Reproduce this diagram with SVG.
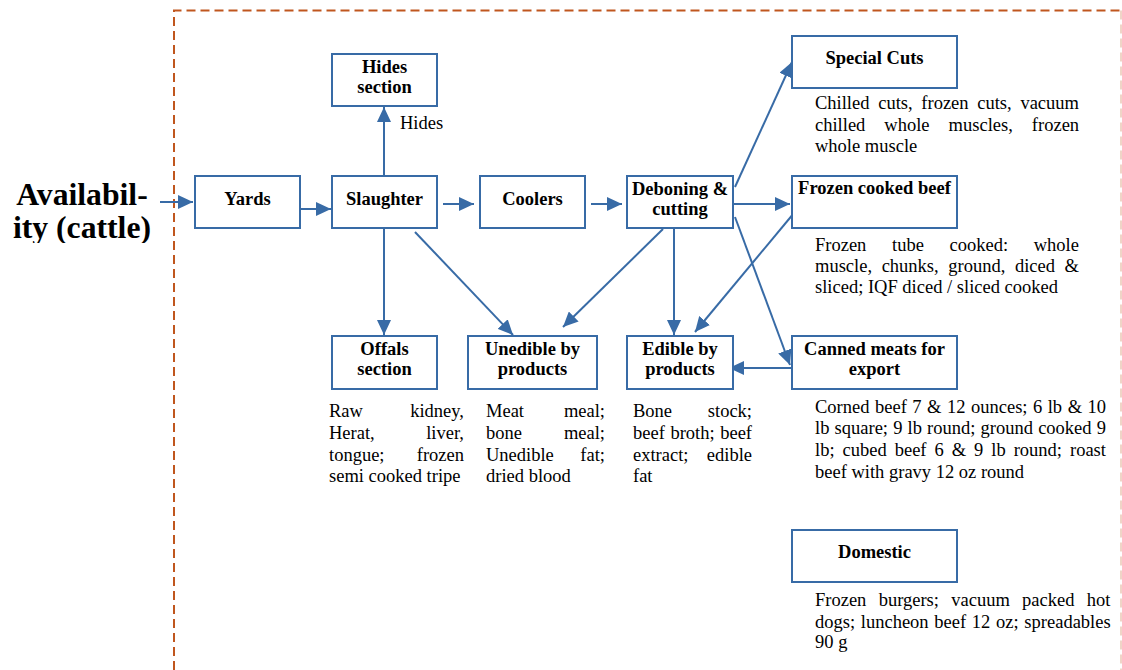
<svg xmlns="http://www.w3.org/2000/svg" width="1122" height="670" viewBox="0 0 1122 670">
<style>
.box{fill:#fff;stroke:#386BA6;stroke-width:2}
.lbl{font-family:"Liberation Serif",serif;font-weight:bold;font-size:18.5px;fill:#000;text-anchor:middle}
.big{font-family:"Liberation Serif",serif;font-weight:bold;font-size:31.7px;fill:#000;text-anchor:middle}
.desc{font-family:"Liberation Serif",serif;font-size:18.5px;fill:#000}
.end{text-anchor:end}
.con{stroke:#386BA6;stroke-width:2;fill:none;marker-end:url(#ah)}
</style>
<defs>
<marker id="ah" markerUnits="userSpaceOnUse" markerWidth="15" markerHeight="14" refX="15" refY="7" orient="auto">
<path d="M0,0 L15,7 L0,14 z" fill="#386BA6"/>
</marker>
<clipPath id="clipA"><rect x="0" y="0" width="174" height="243"/></clipPath>
</defs>
<rect width="1122" height="670" fill="#fff"/>
<g id="border" fill="none" stroke-width="2" stroke-dasharray="9,5">
<path d="M174,670 L174,10.5 L1121,10.5" stroke="#C0561E"/>
<path d="M1121,10.5 L1121,670" stroke="#C0561E" stroke-opacity="0.25"/>
</g>
<g id="availability" clip-path="url(#clipA)">
<text class="big" x="82" y="205">Availabil-</text>
<text class="big" x="82" y="238">ity (cattle)</text>
</g>
<g id="connectors">
<path class="con" d="M160,202 L193,202"/>
<path class="con" d="M301,209 L331,209"/>
<path class="con" d="M443,204 L474,204"/>
<path class="con" d="M591,204 L622,204"/>
<path class="con" d="M734,204 L790,204"/>
<path class="con" d="M735,187 L792,62"/>
<path class="con" d="M384,176 L384,107"/>
<path class="con" d="M384,228 L384,335"/>
<path class="con" d="M415,232 L513,335"/>
<path class="con" d="M663,229 L563,327"/>
<path class="con" d="M674,228 L674,335"/>
<path class="con" d="M794,213 L695,332"/>
<path class="con" d="M735,217 L790,365"/>
<path class="con" d="M792,368 L729,368"/>
</g>
<text id="hides-label" class="desc" x="400" y="129">Hides</text>
<g id="yards"><rect class="box" x="195" y="176" width="105" height="52"/><text class="lbl" x="247.5" y="205">Yards</text></g>
<g id="slaughter"><rect class="box" x="332" y="176" width="105" height="52"/><text class="lbl" x="384.5" y="205">Slaughter</text></g>
<g id="hides"><rect class="box" x="332" y="54" width="105" height="52"/><text class="lbl" x="384.5" y="73">Hides</text><text class="lbl" x="384.5" y="93">section</text></g>
<g id="coolers"><rect class="box" x="480" y="176" width="105" height="52"/><text class="lbl" x="532.5" y="205">Coolers</text></g>
<g id="deboning"><rect class="box" x="627" y="176" width="106" height="52"/><text class="lbl" x="680" y="195">Deboning &amp;</text><text class="lbl" x="680" y="215">cutting</text></g>
<g id="special-cuts"><rect class="box" x="792" y="36" width="165" height="52"/><text class="lbl" x="874.5" y="64">Special Cuts</text>
<text class="desc" x="815" y="109" word-spacing="4.08">Chilled cuts, frozen cuts, vacuum</text>
<text class="desc" x="815" y="131" word-spacing="14.4">chilled whole muscles, frozen</text>
<text class="desc" x="815" y="152">whole muscle</text></g>
<g id="frozen-cooked"><rect class="box" x="792" y="176" width="165" height="52"/><text class="lbl" x="874.5" y="194">Frozen cooked beef</text>
<text class="desc" x="815" y="251" word-spacing="21">Frozen tube cooked: whole</text>
<text class="desc" x="815" y="272" word-spacing="4.98">muscle, chunks, ground, diced &amp;</text>
<text class="desc" x="815" y="293">sliced; IQF diced / sliced cooked</text></g>
<g id="offals"><rect class="box" x="332" y="336" width="105" height="53"/><text class="lbl" x="384.5" y="355">Offals</text><text class="lbl" x="384.5" y="375">section</text>
<text class="desc" x="329" y="417">Raw</text><text class="desc end" x="464" y="417">kidney,</text>
<text class="desc" x="329" y="439">Herat,</text><text class="desc end" x="464" y="439">liver,</text>
<text class="desc" x="329" y="461">tongue;</text><text class="desc end" x="464" y="461">frozen</text>
<text class="desc" x="329" y="482">semi cooked tripe</text></g>
<g id="unedible"><rect class="box" x="468" y="336" width="129" height="53"/><text class="lbl" x="532.5" y="355">Unedible by</text><text class="lbl" x="532.5" y="375">products</text>
<text class="desc" x="486" y="417">Meat</text><text class="desc end" x="605" y="417">meal;</text>
<text class="desc" x="486" y="439">bone</text><text class="desc end" x="605" y="439">meal;</text>
<text class="desc" x="486" y="461">Unedible</text><text class="desc end" x="605" y="461">fat;</text>
<text class="desc" x="486" y="482">dried blood</text></g>
<g id="edible"><rect class="box" x="627" y="336" width="106" height="53"/><text class="lbl" x="680" y="355">Edible by</text><text class="lbl" x="680" y="375">products</text>
<text class="desc" x="633" y="417">Bone</text><text class="desc end" x="752" y="417">stock;</text>
<text class="desc" x="633" y="439" word-spacing="0.95">beef broth; beef</text>
<text class="desc" x="633" y="461">extract;</text><text class="desc end" x="752" y="461">edible</text>
<text class="desc" x="633" y="482">fat</text></g>
<g id="canned"><rect class="box" x="792" y="336" width="165" height="53"/><text class="lbl" x="874.5" y="355">Canned meats for</text><text class="lbl" x="874.5" y="375">export</text>
<text class="desc" x="815" y="413" word-spacing="0.88">Corned beef 7 &amp; 12 ounces; 6 lb &amp; 10</text>
<text class="desc" x="815" y="434" word-spacing="0.54">lb square; 9 lb round; ground cooked 9</text>
<text class="desc" x="815" y="456" word-spacing="3.36">lb; cubed beef 6 &amp; 9 lb round; roast</text>
<text class="desc" x="815" y="478">beef with gravy 12 oz round</text></g>
<g id="domestic"><rect class="box" x="792" y="530" width="165" height="52"/><text class="lbl" x="874.5" y="558">Domestic</text>
<text class="desc" x="815" y="606" word-spacing="7.65">Frozen burgers; vacuum packed hot</text>
<text class="desc" x="815" y="628" word-spacing="1.08">dogs; luncheon beef 12 oz; spreadables</text>
<text class="desc" x="815" y="648">90 g</text></g>
</svg>
